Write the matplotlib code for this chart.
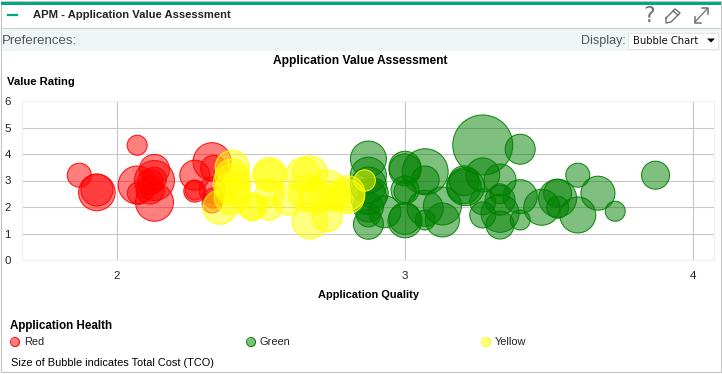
import matplotlib
matplotlib.use("Agg")
import matplotlib.pyplot as plt
from matplotlib.patches import Rectangle, Polygon

plt.rcParams['font.family'] = ['Liberation Sans', 'DejaVu Sans']

# bubble data: quality, rating, total cost (bubble radius in px)
red_x = [1.869, 1.93, 1.93, 2.07, 2.07, 2.074, 2.13, 2.13, 2.13, 2.13, 2.115, 2.115,
         2.27, 2.27, 2.27, 2.33, 2.335, 2.33, 2.335, 2.33]
red_y = [3.2, 2.55, 2.64, 4.33, 2.83, 2.52, 3.42, 3.0, 3.05, 2.18, 2.95, 2.64,
         3.2, 2.6, 2.62, 3.71, 3.46, 2.64, 2.34, 2.15]
red_tco = [12, 18.3, 16, 10, 19, 11, 15, 20, 12, 19, 13, 14,
           15, 11, 9.5, 19, 13, 13, 10, 10]

green_x = [2.873, 2.873, 2.873, 2.873, 2.873, 2.873, 2.873, 2.93, 2.89, 3.0, 3.0, 3.0,
           3.0, 3.0, 3.0, 3.07, 3.07, 3.07, 3.07, 3.13, 3.13, 3.205, 3.205, 3.21,
           3.27, 3.27, 3.33, 3.27, 3.27, 3.33, 3.33, 3.33, 3.33, 3.40,
           3.40, 3.40, 3.475, 3.53, 3.53, 3.53, 3.60, 3.60, 3.67, 3.73, 3.87]
green_y = [3.81, 3.2, 2.83, 2.39, 2.0, 1.35, 1.7, 1.82, 2.52, 3.5, 3.4, 2.64,
           2.58, 1.57, 1.48, 3.33, 3.02, 1.51, 1.95, 2.04, 1.51, 2.99, 2.77, 2.77,
           4.34, 3.21, 3.02, 2.2, 1.7, 2.26, 1.32, 1.76, 2.5, 4.18,
           2.39, 1.51, 1.99, 2.33, 2.52, 1.99, 1.7, 3.2, 2.52, 1.84, 3.2]
green_tco = [18, 18, 18, 18, 15, 15, 12, 16, 15, 16, 16, 14,
             11, 16, 17, 23, 14, 10, 18, 19, 17, 15, 17, 19,
             30, 17, 16, 13, 13, 15, 14, 19, 10, 15,
             17, 10, 18, 19, 14, 11, 18, 12, 17, 10, 14]

yellow_x = [2.40, 2.40, 2.40, 2.40, 2.357, 2.40, 2.53, 2.53, 2.53, 2.53, 2.47, 2.47,
            2.595, 2.647, 2.67, 2.67, 2.73, 2.66, 2.73, 2.80, 2.80, 2.69, 2.76, 2.86]
yellow_y = [3.5, 3.17, 2.9, 2.39, 1.99, 2.7, 3.22, 3.22, 2.55, 1.95, 2.01, 2.01,
            2.26, 3.23, 3.27, 1.48, 1.63, 2.52, 2.64, 2.39, 2.52, 2.39, 2.39, 3.0]
yellow_tco = [17, 17, 19, 18, 17, 17, 17, 15, 14, 12, 14, 12.5,
              15, 17, 17.5, 18, 15, 18, 20, 17, 17.5, 17, 15, 10.7]

x_ticks = [2, 3, 4]
y_ticks = [0, 1, 2, 3, 4, 5, 6]
legend_names = ['Red', 'Green', 'Yellow']


def px(size):
    # font size in points from pixels
    return size * 0.72


def area(radii):
    return [(2 * r * 0.72) ** 2 for r in radii]


fig = plt.figure(figsize=(7.22, 3.74), dpi=100)

# page chrome, in pixel coordinates
bg = fig.add_axes([0, 0, 1, 1])
bg.set_xlim(0, 722)
bg.set_ylim(374, 0)
bg.axis('off')
bg.add_patch(Rectangle((1, 1), 719.5, 371, fc='white', ec='#c4c4c4', lw=0.8))
bg.add_patch(Rectangle((1, 1.5), 720, 3.5, fc='#01a982', ec='none'))
bg.plot([1, 720], [27.5, 27.5], color='#cfcfcf', lw=0.8)
bg.add_patch(Rectangle((2, 28), 718, 23, fc='#f0f6f6', ec='none'))
bg.plot([8, 17], [15, 15], color='#01a982', lw=1.6)
bg.text(33, 15, 'APM - Application Value Assessment', fontsize=px(11.2), fontweight='bold',
        color='#222222', va='center', ha='left')
bg.text(2, 41, 'Preferences:', fontsize=px(13.2), color='#555555', va='center', ha='left')
bg.text(581, 41, 'Display:', fontsize=px(12.5), color='#555555', va='center', ha='left')
bg.add_patch(Rectangle((628, 33), 90, 15.5, fc='white', ec='#e4e4e4', lw=0.7))
bg.text(633, 41, 'Bubble Chart', fontsize=px(10), color='#111111', va='center', ha='left',
        family='DejaVu Sans')
bg.add_patch(Polygon([[707, 38.5], [715, 38.5], [711, 42.5]], fc='black', ec='none'))

# header icons
bg.text(649, 16, '?', fontsize=px(22), color='#6e6e6e', va='center', ha='center', family='DejaVu Sans')
bg.plot([666, 675, 680, 671, 666, 666], [18, 9, 13, 22, 23, 18], color='#6e6e6e', lw=1)
bg.plot([673, 678], [11, 15], color='#6e6e6e', lw=1)
bg.plot([695, 707], [22, 9], color='#6e6e6e', lw=0.9)
bg.plot([702, 708, 708], [8, 8, 14], color='#6e6e6e', lw=1.1)
bg.plot([695, 695, 701], [17, 22.5, 22.5], color='#6e6e6e', lw=1.1)

bg.text(360.5, 61, 'Application Value Assessment', fontsize=px(12), fontweight='bold',
        va='center', ha='center')
bg.text(7, 82, 'Value Rating', fontsize=px(11.3), fontweight='bold', va='center', ha='left')
bg.text(368, 295, 'Application Quality', fontsize=px(11), fontweight='bold', va='center', ha='center')
bg.text(10, 325.5, 'Application Health', fontsize=px(11.6), fontweight='bold', va='center', ha='left')
bg.text(11, 362.5, 'Size of Bubble indicates Total Cost (TCO)', fontsize=px(11), va='center', ha='left')

# legend
legend_px = [15, 251, 486]
legend_fill = ['#ff0000', '#008000', '#ffff00']
for lx, name, col in zip(legend_px, legend_names, legend_fill):
    bg.scatter([lx], [342], s=area([4.5]), color=col, alpha=0.5, linewidths=0)
    bg.scatter([lx], [342], s=area([4.5]), facecolors='none', edgecolors=col, linewidths=0.7)
    bg.text(lx + 9, 342, name, fontsize=px(11), color='#222222', va='center', ha='left')

# bubble plot
ax = fig.add_axes([22 / 722, (374 - 260) / 374, 692 / 722, 159 / 374])
ax.patch.set_alpha(0)
ax.set_xlim(1.670, 4.073)
ax.set_ylim(0, 6)
for s in ax.spines.values():
    s.set_color('#f0f0f0')
    s.set_linewidth(0.8)
ax.set_xticks(x_ticks)
ax.set_yticks(y_ticks)
ax.tick_params(length=0, labelsize=px(11.5), labelcolor='#222222')
ax.tick_params(axis='x', pad=8)
ax.tick_params(axis='y', pad=8)
ax.set_axisbelow(True)
ax.grid(True, color='#c8c8c8', lw=0.8)
ax.get_ygridlines()[-1].set_color('#f0f0f0')
ax.get_ygridlines()[0].set_color('#f0f0f0')

for xs, ys, tco, col in [(red_x, red_y, red_tco, '#ff0000'),
                         (green_x, green_y, green_tco, '#008000'),
                         (yellow_x, yellow_y, yellow_tco, '#ffff00')]:
    ax.scatter(xs, ys, s=area(tco), facecolor=matplotlib.colors.to_rgba(col, 0.5),
               edgecolor=matplotlib.colors.to_rgba(col, 0.9), linewidths=0.75, zorder=3)

fig.savefig('out.png', dpi=100)
